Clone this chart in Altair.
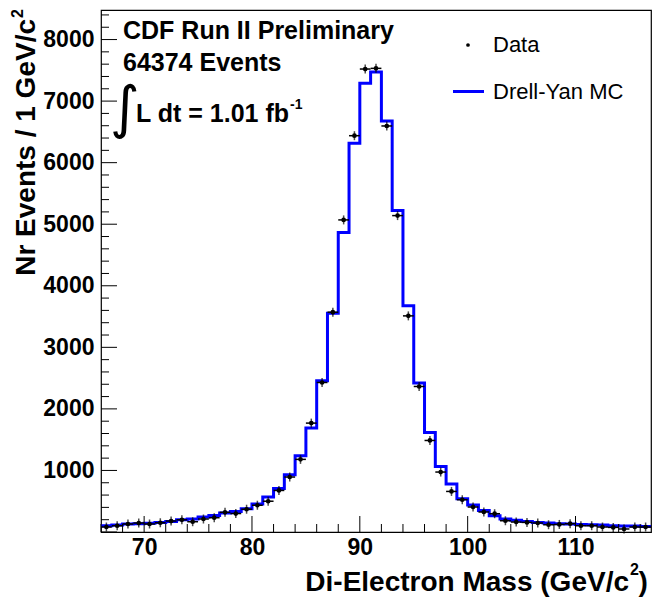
import altair as alt
import pandas as pd

# ---- data ----
bin_centers = [66.5 + i for i in range(51)]
data_counts = [81, 102, 130, 146, 130, 150, 178, 198, 167, 211,
               232, 320, 300, 370, 435, 500, 675, 893, 1180, 1769,
               2429, 3571, 5070, 6438, 7521, 7532, 6596, 5140, 3511, 2364,
               1487, 974, 659, 524, 406, 325, 297, 183, 162, 156,
               146, 118, 123, 135, 102, 102, 81, 75, 49, 81, 81]
mc_counts = [102, 113, 130, 136, 141, 156, 172, 200, 211, 243,
             270, 308, 332, 378, 455, 568, 705, 930, 1240, 1688,
             2456, 3555, 4867, 6315, 7289, 7472, 6677, 5221, 3674, 2419,
             1617, 1065, 779, 541, 438, 351, 265, 211, 189, 172,
             156, 146, 135, 130, 123, 118, 113, 102, 97, 97, 91]
x_major = [70, 80, 90, 100, 110]
x_minor = list(range(66, 118, 2))
y_major = [1000, 2000, 3000, 4000, 5000, 6000, 7000, 8000]
y_minor = list(range(0, 8401, 200))

XMIN, XMAX = 66, 117
YMIN, YMAX = 0, 8480
FONT = "Liberation Sans"

df_data = pd.DataFrame({"m": bin_centers, "n": data_counts})
df_data["lo"] = df_data["m"] - 0.5
df_data["hi"] = df_data["m"] + 0.5

edges = [c - 0.5 for c in bin_centers] + [bin_centers[-1] + 0.5]
df_mc = pd.DataFrame({"m": edges, "n": mc_counts + [mc_counts[-1]]})

xscale = alt.Scale(domain=[XMIN, XMAX], nice=False, zero=False)
yscale = alt.Scale(domain=[YMIN, YMAX], nice=False, zero=False)

xaxis = alt.Axis(values=x_major, ticks=False, domain=False, grid=False, title=None,
                 labelFont=FONT, labelFontSize=23, labelFontWeight="bold", format="d",
                 labelColor="black", labelPadding=4, labelFlush=False)
yaxis = alt.Axis(values=y_major, ticks=False, domain=False, grid=False, title=None,
                 labelFont=FONT, labelFontSize=23, labelFontWeight="bold", format="d",
                 labelColor="black", labelPadding=7)

mc = alt.Chart(df_mc).mark_line(interpolate="step-after", color="#0000ff",
                                strokeWidth=3, clip=True).encode(
    x=alt.X("m:Q", scale=xscale, axis=xaxis),
    y=alt.Y("n:Q", scale=yscale, axis=yaxis),
)

xerr = alt.Chart(df_data).mark_rule(color="black", strokeWidth=1.5).encode(
    x=alt.X("lo:Q", scale=xscale, axis=xaxis),
    x2="hi:Q",
    y=alt.Y("n:Q", scale=yscale, axis=yaxis),
)
yerr = alt.Chart(df_data).mark_tick(orient="vertical", color="black",
                                    thickness=1.5, size=9).encode(
    x=alt.X("m:Q", scale=xscale, axis=xaxis),
    y=alt.Y("n:Q", scale=yscale, axis=yaxis),
)
dots = alt.Chart(df_data).mark_point(filled=True, shape="circle", color="black",
                                     size=22, opacity=1).encode(
    x=alt.X("m:Q", scale=xscale, axis=xaxis),
    y=alt.Y("n:Q", scale=yscale, axis=yaxis),
)

# inward ticks (ROOT style)
def xticks(vals, length):
    return alt.Chart(pd.DataFrame({"t": vals})).mark_rule(color="black", strokeWidth=1).encode(
        x=alt.X("t:Q", scale=xscale, axis=xaxis),
        y=alt.value(522), y2=alt.value(522 - length))

def yticks(vals, length):
    return alt.Chart(pd.DataFrame({"t": vals})).mark_rule(color="black", strokeWidth=1).encode(
        y=alt.Y("t:Q", scale=yscale, axis=yaxis),
        x=alt.value(0), x2=alt.value(length))

ticks = [xticks(x_major, 16), xticks([v for v in x_minor if v not in x_major], 8),
         yticks([0] + y_major, 16), yticks([v for v in y_minor if v % 1000 != 0], 8)]

def txt(s, x, y, size, weight="bold", align="left", baseline="alphabetic", angle=0, font=FONT):
    kw = dict(text=s, fontSize=size, fontWeight=weight, align=align,
              baseline=baseline, font=font, color="black")
    if angle:
        kw["angle"] = angle
    return alt.Chart(pd.DataFrame({"a": [0]})).mark_text(**kw).encode(
        x=alt.value(x), y=alt.value(y))

texts = [
    txt("CDF Run II Preliminary", 22, 28.5, 25),
    txt("64374 Events", 22, 61, 25),
    txt("\u222b", 9, 100, 57, weight="normal", baseline="middle", font="DejaVu Sans"),
    txt("L dt = 1.01 fb", 35, 111.5, 25),
    txt("-1", 189, 99, 14),
    txt("Data", 392, 35, 22, weight="normal", baseline="middle"),
    txt("Drell-Yan MC", 392, 81.5, 22, weight="normal", baseline="middle"),
    # x-axis title with superscript
    txt("Di-Electron Mass (GeV/c", 528, 580.5, 28, align="right"),
    txt("2", 529, 565, 16),
    txt(")", 537.5, 580.5, 28),
    # y-axis title with superscript (rotated)
    txt("Nr Events / 1 GeV/c", -66, 9, 28, align="right", angle=270),
    txt("2", -78, 8, 16, align="left", angle=270),
]

leg_dot = alt.Chart(pd.DataFrame({"a": [0]})).mark_point(
    filled=True, shape="circle", color="black", size=14, opacity=1).encode(
    x=alt.value(367), y=alt.value(35))
leg_line = alt.Chart(pd.DataFrame({"a": [0]})).mark_rule(
    color="#0000ff", strokeWidth=3).encode(
    x=alt.value(352), x2=alt.value(383), y=alt.value(81.5))

chart = alt.layer(mc, xerr, yerr, dots, *ticks, *texts, leg_dot, leg_line).properties(
    width=550, height=522,
    autosize=alt.AutoSizeParams(type="none"),
    padding={"left": 101, "top": 10, "right": 1, "bottom": 66},
    background="white",
).configure_view(stroke="black", strokeWidth=1.2)

chart.save("out.html", embed_options={"renderer": "svg", "actions": False})
